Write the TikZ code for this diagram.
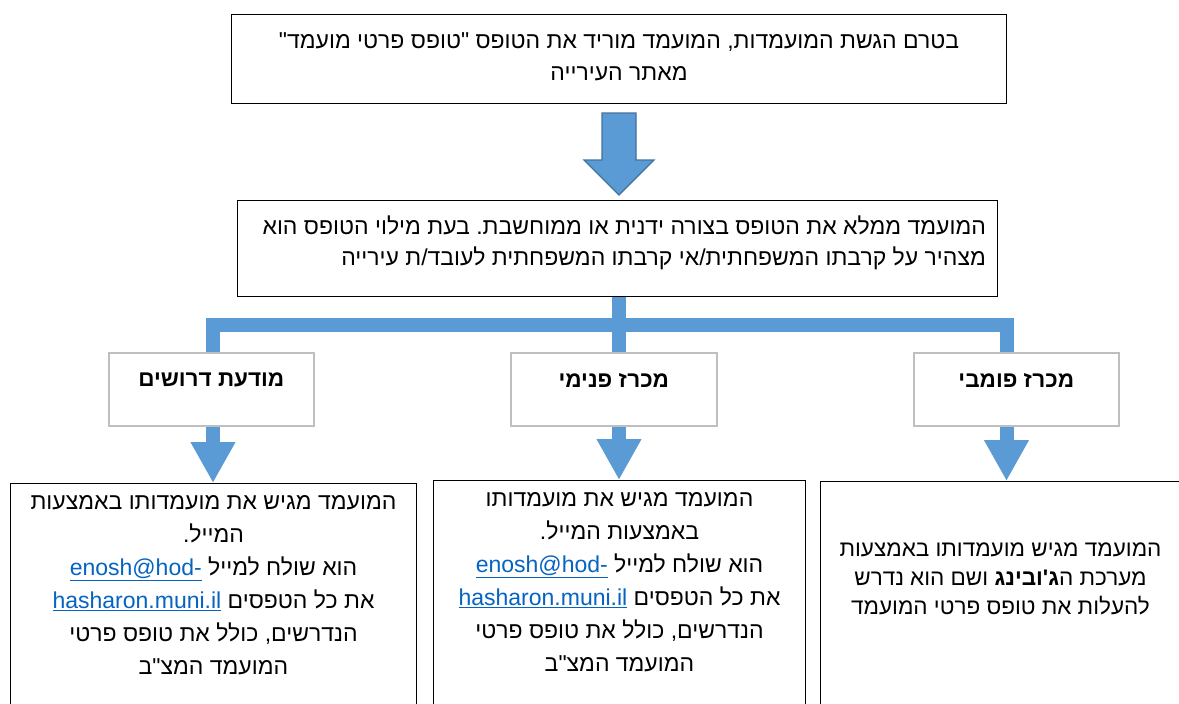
\documentclass[tikz,border=0pt]{standalone}
\usepackage{fontspec}
\setmainfont[Script=Hebrew, Ligatures=TeXOff]{Liberation Sans}
\usetikzlibrary{calc, positioning}
\usetikzlibrary{arrows.meta}
\TeXXeTstate=1
\frenchspacing

\definecolor{flowblue}{HTML}{5B9BD5}
\definecolor{flowedge}{HTML}{41719C}
\definecolor{linkblue}{HTML}{0563C1}
\definecolor{titleedge}{HTML}{BFBFBF}

\newcommand{\heb}[1]{\beginR #1\endR}
\newcommand{\maillink}[1]{\beginL\textcolor{linkblue}{\underline{#1}}\endL}

\tikzset{
  box/.style={draw=black, line width=1pt, anchor=north west, inner sep=0pt},
  titlebox/.style={draw=titleedge, line width=1.6pt, anchor=north west, inner sep=0pt,
    minimum width=205, minimum height=73},
  txt/.style={align=center, inner sep=0pt, font=\fontsize{23}{32}\selectfont},
  bottxt/.style={align=center, inner sep=0pt, font=\fontsize{23}{33}\selectfont},
  titletxt/.style={inner sep=0pt, font=\fontsize{22.5}{26}\selectfont\bfseries},
  flowline/.style={draw=flowblue, line width=14pt, line join=miter},
  flowarrow/.style={draw=flowblue, line width=14pt, -{Triangle[width=42pt, length=41pt]}},
  bigarrow/.style={fill=flowblue, draw=flowedge, line width=1.2pt, line join=miter}
}

\begin{document}
\begin{tikzpicture}[x=1pt, y=-1pt]
    \useasboundingbox (0,0) rectangle (1179,704);

    % boxes
    \node[box, minimum width=775, minimum height=89] (start) at (231,14) {};
    \node[box, minimum width=760, minimum height=96] (fill) at (237,200) {};
    \node[titlebox] (ads) at (108,352) {};
    \node[titlebox, minimum width=206] (inner) at (510,352) {};
    \node[titlebox] (public) at (913,352) {};
    \node[box, minimum width=406, minimum height=240] (adsmail) at (10,483) {};
    \node[box, minimum width=372, minimum height=240] (innermail) at (433,480) {};
    \node[box, minimum width=380, minimum height=240] (publicsys) at (820,481) {};

    % texts
    \node[txt, below=18pt of start.north] (starttext)
      {\heb{בטרם הגשת המועמדות, המועמד מוריד את הטופס "טופס פרטי מועמד"}\\
       \heb{מאתר העירייה}};
    \node[txt, font=\fontsize{23}{30.5}\selectfont, align=right,
      below left=16pt and 12pt of fill.north east] (filltext)
      {\heb{המועמד ממלא את הטופס בצורה ידנית או ממוחשבת. בעת מילוי הטופס הוא}\\
       \heb{מצהיר על קרבתו המשפחתית/אי קרבתו המשפחתית לעובד/ת עירייה}};
    \node[titletxt, below=21pt of ads.north] (adstext) {\heb{מודעת דרושים}};
    \node[titletxt, below=21pt of inner.north] (innertext) {\heb{מכרז פנימי}};
    \node[titletxt, below=21pt of public.north] (publictext) {\heb{מכרז פומבי}};
    \node[bottxt, below=12pt of adsmail.north] (adsmailtext)
      {\heb{המועמד מגיש את מועמדותו באמצעות}\\
       \heb{המייל.}\\
       \heb{הוא שולח למייל \maillink{enosh@hod-}}\\
       \heb{את כל הטפסים \maillink{hasharon.muni.il}}\\
       \heb{הנדרשים, כולל את טופס פרטי}\\
       \heb{המועמד המצ"ב}};
    \node[bottxt, below=12pt of innermail.north] (innermailtext)
      {\heb{המועמד מגיש את מועמדותו}\\
       \heb{באמצעות המייל.}\\
       \heb{הוא שולח למייל \maillink{enosh@hod-}}\\
       \heb{את כל הטפסים \maillink{hasharon.muni.il}}\\
       \heb{הנדרשים, כולל את טופס פרטי}\\
       \heb{המועמד המצ"ב}};
    \node[bottxt, font=\fontsize{22.5}{29}\selectfont, below=62pt of publicsys.north, xshift=-10pt] (publicsystext)
      {\heb{המועמד מגיש מועמדותו באמצעות}\\
       \heb{מערכת ה{\bfseries ג'ובינג} ושם הוא נדרש}\\
       \heb{להעלות את טופס פרטי המועמד}};

    % big arrow
    \coordinate (root) at ($(start.south)+(0,9)$);
    \coordinate (tip) at (root |- fill.north);
    \coordinate (tip) at ($(tip)+(0,-5)$);
    \filldraw[bigarrow] ($(root)+(-17,0)$) -- ($(root)+(17,0)$)
      -- ($(tip)+(17,-35)$) -- ($(tip)+(35,-35)$) -- (tip)
      -- ($(tip)+(-35,-35)$) -- ($(tip)+(-17,-35)$) -- cycle;

    % connectors
    \coordinate (hub) at (619,324.5);
    \coordinate (lbend) at (213,324.5);
    \coordinate (rbend) at (1006.5,324.5);
    \draw[flowline] (hub |- fill.south) -- (hub |- inner.north);
    \draw[flowline] (lbend |- ads.north) -- (lbend) -- (rbend) -- (rbend |- public.north);
    \draw[flowarrow] (lbend |- ads.south) -- (lbend |- adsmail.north);
    \draw[flowarrow] (hub |- inner.south) -- (hub |- innermail.north);
    \draw[flowarrow] (rbend |- public.south) -- (rbend |- publicsys.north);
  \end{tikzpicture}
\end{document}
